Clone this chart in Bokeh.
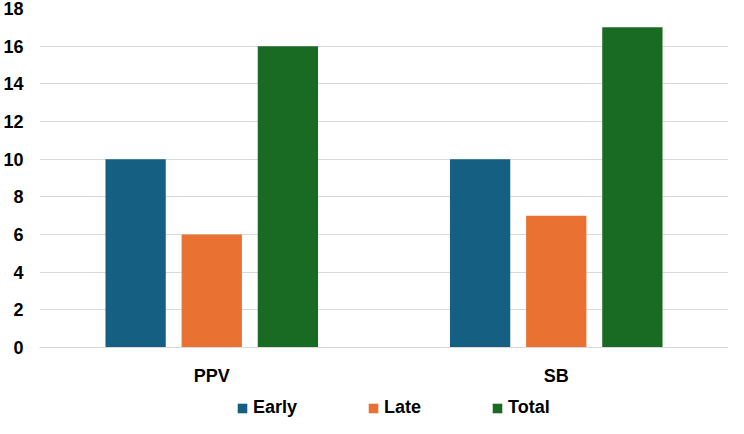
from bokeh.plotting import figure
from bokeh.models import ColumnDataSource, FactorRange, Range1d, FixedTicker, Legend, LegendItem
from bokeh.layouts import column
from bokeh.transform import dodge
from bokeh.embed import file_html
from bokeh.resources import INLINE

categories = ["PPV", "SB"]
series = ["Early", "Late", "Total"]
early = [10, 10]
late = [6, 7]
total = [16, 17]
y_ticks = [0, 2, 4, 6, 8, 10, 12, 14, 16, 18]

colors = {"Early": "#156082", "Late": "#E97132", "Total": "#196B24"}
offsets = {"Early": -0.221, "Late": 0.0, "Total": 0.221}

source = ColumnDataSource(data=dict(cat=categories, Early=early, Late=late, Total=total))

p = figure(width=728, height=388, output_backend="svg", toolbar_location=None,
           x_range=FactorRange(*categories, range_padding=0), y_range=Range1d(0, 18),
           min_border_left=0, min_border_right=0, min_border_top=8, min_border_bottom=0)
p.outline_line_color = None
p.background_fill_color = "white"
p.border_fill_color = "white"

for s in series:
    p.vbar(x=dodge("cat", offsets[s], range=p.x_range), top=s, width=0.175,
           source=source, fill_color=colors[s], line_color=None)

font = "Liberation Sans"
p.yaxis.ticker = FixedTicker(ticks=y_ticks)
p.yaxis.axis_line_color = None
p.yaxis.major_tick_line_color = None
p.yaxis.minor_tick_line_color = None
p.yaxis.major_label_text_font = font
p.yaxis.major_label_text_font_style = "bold"
p.yaxis.major_label_text_font_size = "18px"
p.yaxis.major_label_text_color = "#000000"
p.yaxis.major_label_standoff = 10

p.xaxis.axis_line_color = "#D9D9D9"
p.xaxis.major_tick_line_color = None
p.xaxis.minor_tick_line_color = None
p.xaxis.major_label_text_font = font
p.xaxis.major_label_text_font_style = "bold"
p.xaxis.major_label_text_font_size = "18px"
p.xaxis.major_label_text_color = "#000000"
p.xaxis.major_label_standoff = 12

p.xgrid.grid_line_color = None
p.ygrid.grid_line_color = "#D9D9D9"
p.ygrid.grid_line_width = 1

# legend strip below the chart (zero-height helper bars only carry legend styles)
lf = figure(width=728, height=30, output_backend="svg", toolbar_location=None,
            x_range=Range1d(0, 1), y_range=Range1d(0, 1),
            x_axis_type=None, y_axis_type=None, min_border=0)
lf.outline_line_color = None
lf.background_fill_color = "white"
lf.border_fill_color = "white"

items = []
for s in series:
    r = lf.vbar(x=[0.5], top=[0], bottom=[0], width=0.0, fill_color=colors[s], line_color=None)
    items.append(LegendItem(label=s, renderers=[r]))

legend = Legend(items=items, orientation="horizontal", location=(197, 0),
                glyph_width=12, glyph_height=12, label_standoff=5,
                spacing=70, padding=0, margin=0, border_line_color=None,
                background_fill_alpha=0,
                label_text_font=font, label_text_font_style="bold",
                label_text_font_size="18px", label_text_color="#000000")
lf.add_layout(legend, "center")

layout = column(p, lf, spacing=0)
open("out.html", "w").write(file_html(layout, INLINE))
